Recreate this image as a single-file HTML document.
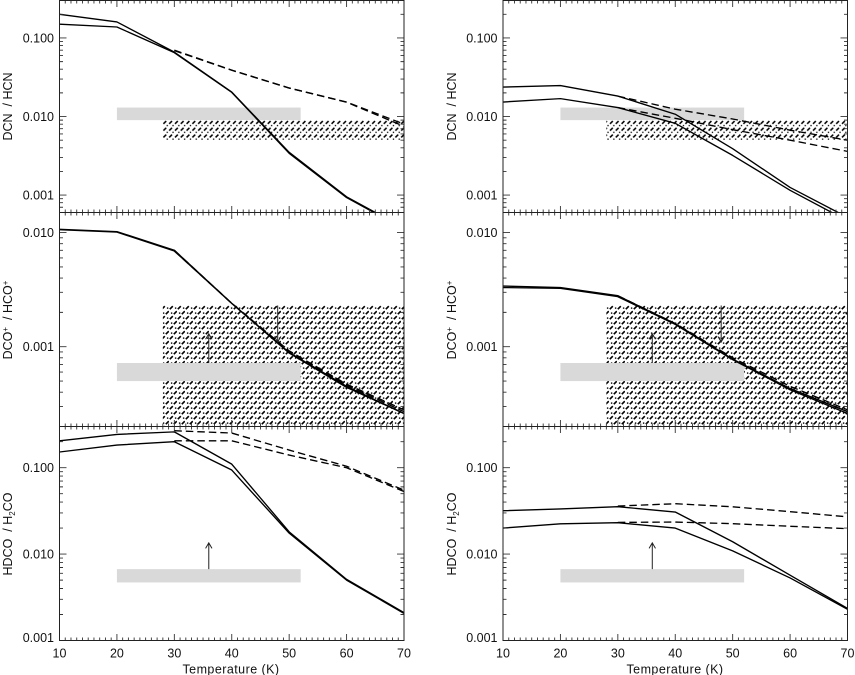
<!DOCTYPE html>
<html lang="en">
<head>
<meta charset="utf-8">
<title>Deuterium fractionation ratios vs temperature</title>
<style>
html,body{margin:0;padding:0;background:#fff;}
body{width:855px;height:675px;overflow:hidden;}
svg{display:block;}
text{font-family:"Liberation Sans",sans-serif;font-size:12.5px;fill:#111;white-space:pre;}
</style>
</head>
<body>
<svg id="chart" xmlns="http://www.w3.org/2000/svg" width="855" height="675" viewBox="0 0 855 675">
  <defs>
    <pattern id="hatch-sparse" patternUnits="userSpaceOnUse" width="5.8" height="6.8" x="0" y="120">
      <path d="M1 3.8 L3.8 1" stroke="#000" stroke-width="1.55" fill="none"/>
      <rect x="4.2" y="4.9" width="1.3" height="1.3" fill="#000"/>
    </pattern>
    <pattern id="hatch-dense" patternUnits="userSpaceOnUse" width="8" height="10" x="1" y="305">
      <path d="M.8 4.2 L3.8 1.2 M4.8 9.2 L7.8 6.2" stroke="#000" stroke-width="1.65" fill="none"/>
      <rect x="5.9" y="2.4" width="1.4" height="1.4" fill="#000"/>
      <rect x="1.9" y="7.4" width="1.4" height="1.4" fill="#000"/>
    </pattern>
  </defs>

  <g id="panels"></g>

  <text transform="translate(12,106.5) rotate(-90)" text-anchor="middle">DCN  / HCN</text>
  <text transform="translate(456,106.5) rotate(-90)" text-anchor="middle">DCN  / HCN</text>
  <text transform="translate(12,320) rotate(-90)" text-anchor="middle">DCO<tspan dy="-4" font-size="8">+</tspan><tspan dy="4">  / HCO</tspan><tspan dy="-4" font-size="8">+</tspan></text>
  <text transform="translate(456,320) rotate(-90)" text-anchor="middle">DCO<tspan dy="-4" font-size="8">+</tspan><tspan dy="4">  / HCO</tspan><tspan dy="-4" font-size="8">+</tspan></text>
  <text transform="translate(12,534) rotate(-90)" text-anchor="middle">HDCO  / H<tspan dy="3" font-size="8">2</tspan><tspan dy="-3">CO</tspan></text>
  <text transform="translate(456,534) rotate(-90)" text-anchor="middle">HDCO  / H<tspan dy="3" font-size="8">2</tspan><tspan dy="-3">CO</tspan></text>
  <text x="231" y="673.5" text-anchor="middle" style="letter-spacing:.45px">Temperature (K)</text>
  <text x="675" y="673.5" text-anchor="middle" style="letter-spacing:.45px">Temperature (K)</text>
</svg>

<script>
// ---- shared axis data ----
const temps = [10, 20, 30, 40, 50, 60, 70];
const dashTemps = [30, 40, 50, 60, 70];
const xTickValues = [10, 20, 30, 40, 50, 60, 70];
const xTickLabels = ['10', '20', '30', '40', '50', '60', '70'];

const yTicksDcn = [0.1, 0.01, 0.001];
const yLabelsDcn = ['0.100', '0.010', '0.001'];
const yTicksDco = [0.01, 0.001];
const yLabelsDco = ['0.010', '0.001'];
const yTicksHdco = [0.1, 0.01, 0.001];
const yLabelsHdco = ['0.100', '0.010', '0.001'];

const yRangeDcn = [0.0006, 0.3];
const yRangeDco = [0.0002, 0.015];
const yRangeHdco = [0.001, 0.3];

// ---- observed bands ----
const grayTempRange = [20, 52];
const hatchTempRange = [28, 70];
const grayDcn = [0.009, 0.013];
const hatchDcn = [0.005, 0.009];
const grayDco = [0.0005, 0.00072];
const hatchDco = [0.0002, 0.0023];
const grayHdco = [0.0047, 0.0067];

// ---- limit arrows: [T, from, to] ----
const arrowDcoUp = [36, 0.00072, 0.0013];
const arrowDcoDown = [48, 0.0023, 0.0011];
const arrowHdcoUp = [36, 0.0067, 0.0135];

// ---- DCN / HCN, left ----
const dcnLeftSolidA = [0.20, 0.16, 0.066, 0.0205, 0.0035, 0.00095, 0.00038];
const dcnLeftSolidB = [0.15, 0.138, 0.065, 0.0203, 0.0034, 0.00093, 0.00037];
const dcnLeftDashA = [0.070, 0.039, 0.0231, 0.0153, 0.0080];
const dcnLeftDashB = [0.069, 0.0388, 0.0230, 0.0152, 0.0075];
// ---- DCN / HCN, right ----
const dcnRightSolidA = [0.0237, 0.0248, 0.0182, 0.0107, 0.0039, 0.00125, 0.00052];
const dcnRightSolidB = [0.0153, 0.0169, 0.013, 0.0082, 0.0032, 0.00115, 0.00047];
const dcnRightDashA = [0.0182, 0.0124, 0.0093, 0.0067, 0.0050];
const dcnRightDashB = [0.013, 0.0095, 0.0068, 0.0050, 0.0036];
// ---- DCO+ / HCO+, left ----
const dcoLeftSolidA = [0.0107, 0.0102, 0.0070, 0.0024, 0.00089, 0.00045, 0.00026];
const dcoLeftSolidB = [0.0106, 0.0101, 0.0069, 0.0024, 0.00088, 0.00044, 0.00026];
const dcoLeftDashA = [0.0070, 0.0024, 0.00092, 0.00047, 0.00028];
const dcoLeftDashB = [0.0069, 0.0024, 0.00090, 0.00046, 0.00027];
// ---- DCO+ / HCO+, right ----
const dcoRightSolidA = [0.0034, 0.0033, 0.0028, 0.00159, 0.00078, 0.00043, 0.00027];
const dcoRightSolidB = [0.0033, 0.00325, 0.00275, 0.00157, 0.00077, 0.00042, 0.00026];
const dcoRightDashA = [0.0028, 0.0016, 0.0008, 0.00045, 0.00028];
const dcoRightDashB = [0.00275, 0.00158, 0.00078, 0.00043, 0.00027];
// ---- HDCO / H2CO, left ----
const hdcoLeftSolidA = [0.205, 0.243, 0.26, 0.11, 0.0181, 0.0051, 0.0021];
const hdcoLeftSolidB = [0.152, 0.183, 0.20, 0.094, 0.0175, 0.0050, 0.00206];
const hdcoLeftDashA = [0.268, 0.252, 0.16, 0.104, 0.055];
const hdcoLeftDashB = [0.205, 0.205, 0.14, 0.10, 0.053];
// ---- HDCO / H2CO, right ----
const hdcoRightSolidA = [0.0318, 0.0333, 0.0354, 0.0307, 0.0139, 0.0057, 0.00235];
const hdcoRightSolidB = [0.020, 0.0224, 0.0231, 0.020, 0.0109, 0.0053, 0.0023];
const hdcoRightDashA = [0.036, 0.0383, 0.0353, 0.031, 0.027];
const hdcoRightDashB = [0.0233, 0.0235, 0.0225, 0.021, 0.0197];

// ---- panel wiring ----
const panelList = [
  {id:'dcn-left', col:0, row:0, range:yRangeDcn, ticks:yTicksDcn, labels:yLabelsDcn, a:dcnLeftSolidA, b:dcnLeftSolidB, c:dcnLeftDashA, d:dcnLeftDashB, gray:grayDcn, hatch:hatchDcn, pat:'hatch-sparse', arrows:[]},
  {id:'dcn-right', col:1, row:0, range:yRangeDcn, ticks:yTicksDcn, labels:yLabelsDcn, a:dcnRightSolidA, b:dcnRightSolidB, c:dcnRightDashA, d:dcnRightDashB, gray:grayDcn, hatch:hatchDcn, pat:'hatch-sparse', arrows:[]},
  {id:'dco-left', col:0, row:1, range:yRangeDco, ticks:yTicksDco, labels:yLabelsDco, a:dcoLeftSolidA, b:dcoLeftSolidB, c:dcoLeftDashA, d:dcoLeftDashB, gray:grayDco, hatch:hatchDco, pat:'hatch-dense', arrows:[arrowDcoUp, arrowDcoDown]},
  {id:'dco-right', col:1, row:1, range:yRangeDco, ticks:yTicksDco, labels:yLabelsDco, a:dcoRightSolidA, b:dcoRightSolidB, c:dcoRightDashA, d:dcoRightDashB, gray:grayDco, hatch:hatchDco, pat:'hatch-dense', arrows:[arrowDcoUp, arrowDcoDown]},
  {id:'hdco-left', col:0, row:2, range:yRangeHdco, ticks:yTicksHdco, labels:yLabelsHdco, a:hdcoLeftSolidA, b:hdcoLeftSolidB, c:hdcoLeftDashA, d:hdcoLeftDashB, gray:grayHdco, hatch:null, pat:null, arrows:[arrowHdcoUp]},
  {id:'hdco-right', col:1, row:2, range:yRangeHdco, ticks:yTicksHdco, labels:yLabelsHdco, a:hdcoRightSolidA, b:hdcoRightSolidB, c:hdcoRightDashA, d:hdcoRightDashB, gray:grayHdco, hatch:null, pat:null, arrows:[arrowHdcoUp]}
];

const NS = 'http://www.w3.org/2000/svg';
const colLeft = [59.5, 503];
const plotWidth = 344.5;
const rowTop = [0.5, 212.5, 426.5];
const rowBottom = [212.5, 426.5, 640.5];
const xDomain = [10, 70];
const root = document.getElementById('panels');
const defs = document.querySelector('#chart defs');

function mk(tag, attrs, parent) {
  const e = document.createElementNS(NS, tag);
  for (const k in attrs) e.setAttribute(k, attrs[k]);
  parent.appendChild(e);
  return e;
}

panelList.forEach(function (p) {
  const left = colLeft[p.col], right = left + plotWidth;
  const top = rowTop[p.row], bottom = rowBottom[p.row];
  const xOf = function (t) { return left + (t - xDomain[0]) / (xDomain[1] - xDomain[0]) * plotWidth; };
  const lmin = Math.log10(p.range[0]), lmax = Math.log10(p.range[1]);
  const yOf = function (v) { return bottom - (Math.log10(v) - lmin) / (lmax - lmin) * (bottom - top); };

  const g = mk('g', {}, root);
  
  

  const clip = mk('clipPath', {id: 'clip-' + p.id}, defs);
  mk('rect', {x: left, y: top, width: plotWidth, height: bottom - top}, clip);

  const marks = mk('g', {'clip-path': 'url(#clip-' + p.id + ')'}, g);

  if (p.hatch) {
    const h = mk('rect', {x: xOf(hatchTempRange[0]), y: yOf(p.hatch[1]), width: xOf(hatchTempRange[1]) - xOf(hatchTempRange[0]), height: yOf(p.hatch[0]) - yOf(p.hatch[1]), fill: 'url(#' + p.pat + ')'}, marks);
    
    
  }

  const band = mk('rect', {x: xOf(grayTempRange[0]), y: yOf(p.gray[1]), width: xOf(grayTempRange[1]) - xOf(grayTempRange[0]), height: yOf(p.gray[0]) - yOf(p.gray[1]), fill: '#d9d9d9'}, marks);
  
  

  p.arrows.forEach(function (a) {
    const x = xOf(a[0]), y0 = yOf(a[1]), y1 = yOf(a[2]);
    const dir = y1 < y0 ? 1 : -1;
    const ar = mk('path', {d: 'M' + x + ' ' + y0 + ' L' + x + ' ' + y1 + ' M' + (x - 3.2) + ' ' + (y1 + dir * 5.5) + ' L' + x + ' ' + y1 + ' L' + (x + 3.2) + ' ' + (y1 + dir * 5.5), fill: 'none', stroke: '#222', 'stroke-width': 1}, g);
    
    
  });

  function line(ts, vs, dashed, name) {
    const d = ts.map(function (t, i) { return (i ? 'L' : 'M') + xOf(t).toFixed(2) + ' ' + yOf(vs[i]).toFixed(2); }).join(' ');
    const path = mk('path', {d: d, fill: 'none', stroke: '#000', 'stroke-width': 1.35, 'stroke-linejoin': 'round'}, marks);
    if (dashed) path.setAttribute('stroke-dasharray', '7.5 4');
    
    
  }
  line(dashTemps, p.c, true, 'dashed-series-a');
  line(dashTemps, p.d, true, 'dashed-series-b');
  line(temps, p.a, false, 'solid-series-a');
  line(temps, p.b, false, 'solid-series-b');

  // ticks
  let dTicks = '';
  for (let t = xDomain[0]; t <= xDomain[1]; t++) {
    const major = (t % 10 === 0);
    const len = major ? 6.5 : 3;
    const x = xOf(t);
    dTicks += 'M' + x + ' ' + bottom + 'V' + (bottom - len) + 'M' + x + ' ' + top + 'V' + (top + len);
  }
  const decStart = Math.floor(lmin), decEnd = Math.ceil(lmax);
  for (let dec = decStart; dec < decEnd; dec++) {
    for (let m = 1; m < 10; m++) {
      const v = m * Math.pow(10, dec);
      if (v < p.range[0] * 0.999 || v > p.range[1] * 1.001) continue;
      const len = m === 1 ? 7 : 3.5;
      const y = yOf(v);
      dTicks += 'M' + left + ' ' + y + 'H' + (left + len) + 'M' + right + ' ' + y + 'H' + (right - len);
    }
  }
  const tk = mk('path', {d: dTicks, stroke: '#333', 'stroke-width': 0.9, fill: 'none'}, g);
  
  

  const frame = mk('rect', {x: left, y: top, width: plotWidth, height: bottom - top, fill: 'none', stroke: '#222', 'stroke-width': 1}, g);
  
  

  p.ticks.forEach(function (v, i) {
    const atBottom = Math.abs(yOf(v) - bottom) < 1;
    const t = mk('text', {x: left - 5.5, y: yOf(v) + 4.5 - (atBottom ? 3 : 0), 'text-anchor': 'end'}, g);
    t.textContent = p.labels[i];
    
    
  });

  if (p.row === 2) {
    xTickValues.forEach(function (v, i) {
      const t = mk('text', {x: xOf(v), y: 657.5, 'text-anchor': 'middle'}, g);
      t.textContent = xTickLabels[i];
      
      
    });
  }
});
</script>
</body>
</html>
